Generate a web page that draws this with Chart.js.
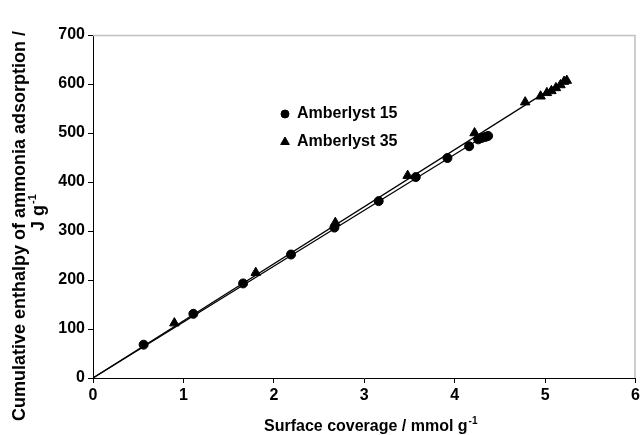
<!DOCTYPE html>
<html>
<head>
<meta charset="utf-8">
<script src="https://cdn.jsdelivr.net/npm/chart.js@4/dist/chart.umd.min.js"></script>
<style>
  html, body { margin: 0; padding: 0; background: #fff; }
  #wrap { width: 642px; height: 435px; }
</style>
</head>
<body>
<div id="wrap"><canvas id="enthalpyChart" width="642" height="435"></canvas></div>
<script>
// surface coverage (mmol/g) and cumulative enthalpy (J/g)
const am15Coverage = [0.56, 1.11, 1.66, 2.19, 2.67, 3.16, 3.57, 3.92, 4.16, 4.26, 4.30, 4.34, 4.37];
const am15Enthalpy = [68, 131, 193, 252, 307, 361, 410, 449, 473, 487, 490, 492, 494];
const am35Coverage = [0.90, 1.80, 2.68, 3.48, 4.22, 4.78, 4.95, 5.02, 5.07, 5.12, 5.17, 5.21, 5.24];
const am35Enthalpy = [112, 215, 317, 413, 500, 563, 575, 582, 586, 592, 598, 605, 607];
const seriesNames = ['Amberlyst 15', 'Amberlyst 35'];
const xTicks = [0, 1, 2, 3, 4, 5, 6];
const yTicks = [0, 100, 200, 300, 400, 500, 600, 700];

const FONT = "'Liberation Sans', Arial, sans-serif";

function toPoints(xs, ys) {
    return xs.map((x, i) => ({ x: x, y: ys[i] }));
}

// least squares line forced through the origin
function trendLine(xs, ys) {
    let sxy = 0, sxx = 0;
    xs.forEach((x, i) => { sxy += x * ys[i]; sxx += x * x; });
    const k = sxy / sxx;
    const xEnd = Math.max(...xs);
    return [{ x: 0, y: 0 }, { x: xEnd, y: k * xEnd }];
}

const lineStyle = {
    type: 'line',
    borderColor: '#000',
    borderWidth: 1.2,
    pointRadius: 0,
    fill: false,
    showLine: true
};

const overlay = {
    id: 'overlay',
    beforeDatasetsDraw(chart) {
        const ctx = chart.ctx;
        const a = chart.chartArea;
        ctx.save();
        ctx.strokeStyle = '#c0c0c0';
        ctx.lineWidth = 1.5;
        ctx.beginPath();
        ctx.moveTo(a.left, a.top + 0.5);
        ctx.lineTo(a.right - 0.5, a.top + 0.5);
        ctx.lineTo(a.right - 0.5, a.bottom);
        ctx.stroke();
        ctx.restore();
    },
    afterDraw(chart) {
        const ctx = chart.ctx;
        const a = chart.chartArea;
        ctx.save();
        ctx.fillStyle = '#000';
        ctx.strokeStyle = '#000';
        ctx.textBaseline = 'middle';

        // y axis title, two lines
        ctx.save();
        ctx.translate(20, 226);
        ctx.rotate(-Math.PI / 2);
        ctx.font = 'bold 18px ' + FONT;
        ctx.textAlign = 'center';
        ctx.fillText('Cumulative enthalpy of ammonia adsorption /', 0, 0);
        ctx.restore();

        ctx.save();
        ctx.translate(39, 213);
        ctx.rotate(-Math.PI / 2);
        drawWithSup(ctx, 'J g', '-1', 0, 0, 18, 'center');
        ctx.restore();

        // x axis title
        drawWithSup(ctx, 'Surface coverage / mmol g', '-1', (a.left + a.right) / 2 + 6, 427, 16, 'center');

        // legend inside plot
        const items = chart.data.datasets.filter(d => d.label);
        items.forEach((d, i) => {
            const y = 114 + i * 28;
            Chart.helpers.drawPoint(ctx, {
                pointStyle: d.pointStyle,
                radius: d.pointStyle === 'triangle' ? 5 : 4,
                rotation: 0,
                borderWidth: 1
            }, 285, y);
            ctx.font = 'bold 16px ' + FONT;
            ctx.textAlign = 'left';
            ctx.fillText(d.label, 297, y);
        });
        ctx.restore();
    }
};

function drawWithSup(ctx, main, sup, x, y, size, align) {
    ctx.font = 'bold ' + size + 'px ' + FONT;
    const w1 = ctx.measureText(main).width;
    ctx.font = 'bold ' + Math.round(size * 0.62) + 'px ' + FONT;
    const w2 = ctx.measureText(sup).width;
    const start = align === 'center' ? x - (w1 + w2) / 2 : x;
    ctx.textAlign = 'left';
    ctx.font = 'bold ' + size + 'px ' + FONT;
    ctx.fillText(main, start, y);
    ctx.font = 'bold ' + Math.round(size * 0.62) + 'px ' + FONT;
    ctx.fillText(sup, start + w1 + 1, y - size * 0.35);
}

const axisFont = { family: FONT, size: 16, weight: 'bold' };

const ctx = document.getElementById('enthalpyChart').getContext('2d');
const enthalpyChart = new Chart(ctx, {
    type: 'scatter',
    data: {
        datasets: [
            Object.assign({ data: trendLine(am15Coverage, am15Enthalpy) }, lineStyle),
            Object.assign({ data: trendLine(am35Coverage, am35Enthalpy) }, lineStyle),
            {
                label: seriesNames[0],
                data: toPoints(am15Coverage, am15Enthalpy),
                pointStyle: 'circle',
                pointRadius: 4.5,
                backgroundColor: '#000',
                borderColor: '#000',
                borderWidth: 1
            },
            {
                label: seriesNames[1],
                data: toPoints(am35Coverage, am35Enthalpy),
                pointStyle: 'triangle',
                pointRadius: 5.5,
                backgroundColor: '#000',
                borderColor: '#000',
                borderWidth: 1
            }
        ]
    },
    options: {
        responsive: false,
        animation: false,
        layout: { padding: { left: 0, right: 5, top: 35, bottom: 0 } },
        plugins: {
            legend: { display: false },
            tooltip: { enabled: false }
        },
        scales: {
            x: {
                type: 'linear',
                min: 0,
                max: 6,
                afterBuildTicks(s) { s.ticks = xTicks.map(v => ({ value: v })); },
                ticks: { color: '#000', font: axisFont, padding: 3, maxRotation: 0 },
                grid: { drawOnChartArea: false, drawTicks: true, tickLength: 5, color: '#000' },
                border: { color: '#000', width: 1 },
                afterFit(s) { s.height = 57; s.paddingLeft = 0; s.paddingRight = 0; }
            },
            y: {
                type: 'linear',
                min: 0,
                max: 700,
                afterBuildTicks(s) { s.ticks = yTicks.map(v => ({ value: v })); },
                ticks: { color: '#000', font: axisFont, padding: 3 },
                grid: { drawOnChartArea: false, drawTicks: true, tickLength: 5, color: '#000' },
                border: { color: '#000', width: 1 },
                afterFit(s) { s.width = 93; s.paddingTop = 0; s.paddingBottom = 0; }
            }
        }
    },
    plugins: [overlay]
});
</script>
</body>
</html>
